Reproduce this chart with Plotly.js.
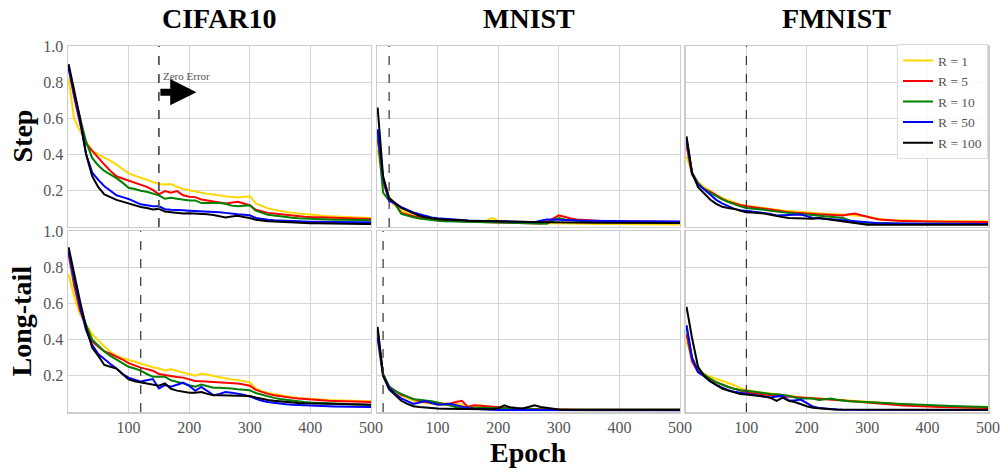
<!DOCTYPE html>
<html>
<head>
<meta charset="utf-8">
<script src="https://cdn.plot.ly/plotly-3.0.1.min.js"></script>
<style>html,body{margin:0;padding:0;background:#fff;}#chart{width:1003px;height:473px;}</style>
</head>
<body>
<div id="chart"></div>
<script>
// ---------------- data ----------------
const epochs = [1,10,20,30,40,50,60,70,80,90,100,110,120,130,140,150,160,170,180,190,200,210,220,230,240,250,260,270,280,290,300,310,320,330,340,350,360,370,380,390,400,410,420,430,440,450,460,470,480,490,500];
const seriesNames = ['R = 1','R = 5','R = 10','R = 50','R = 100'];
const datasets = ['CIFAR10','MNIST','FMNIST'];
const rowNames = ['Step','Long-tail'];
const xTicks = [100,200,300,400,500];
const yTicks = [0.2,0.4,0.6,0.8,1.0];
const yTickText = ['0.2','0.4','0.6','0.8','1.0'];
const zeroErrorEpoch = [150,20,100,120,10,100]; // step row then long-tail row

// CIFAR10 - Step
const cifarStep_R1   = [0.82,0.60,0.53,0.47,0.42,0.40,0.383,0.365,0.345,0.32,0.296,0.284,0.272,0.26,0.248,0.238,0.235,0.238,0.222,0.21,0.203,0.195,0.188,0.183,0.179,0.174,0.168,0.165,0.163,0.168,0.17,0.13,0.115,0.103,0.095,0.088,0.083,0.078,0.074,0.07,0.067,0.064,0.062,0.06,0.058,0.057,0.055,0.054,0.052,0.051,0.05];
const cifarStep_R5   = [0.88,0.72,0.57,0.46,0.42,0.38,0.345,0.31,0.28,0.268,0.257,0.245,0.235,0.222,0.205,0.18,0.198,0.19,0.198,0.175,0.167,0.165,0.152,0.145,0.14,0.135,0.13,0.135,0.139,0.13,0.12,0.095,0.085,0.078,0.074,0.07,0.066,0.062,0.059,0.057,0.055,0.053,0.052,0.051,0.05,0.049,0.048,0.047,0.046,0.045,0.044];
const cifarStep_R10  = [0.89,0.74,0.60,0.47,0.38,0.34,0.31,0.29,0.27,0.245,0.217,0.21,0.20,0.195,0.185,0.175,0.156,0.161,0.156,0.15,0.147,0.147,0.132,0.132,0.133,0.133,0.128,0.118,0.115,0.118,0.12,0.09,0.078,0.068,0.063,0.058,0.054,0.051,0.048,0.046,0.044,0.043,0.042,0.041,0.04,0.04,0.039,0.038,0.038,0.037,0.037];
const cifarStep_R50  = [0.88,0.74,0.58,0.40,0.30,0.26,0.225,0.20,0.175,0.165,0.155,0.14,0.125,0.12,0.115,0.115,0.098,0.095,0.095,0.092,0.09,0.089,0.088,0.087,0.085,0.082,0.078,0.073,0.07,0.068,0.065,0.05,0.043,0.04,0.037,0.035,0.033,0.032,0.031,0.03,0.029,0.029,0.028,0.028,0.027,0.027,0.027,0.026,0.026,0.026,0.026];
const cifarStep_R100 = [0.90,0.75,0.60,0.40,0.28,0.22,0.18,0.165,0.15,0.14,0.13,0.12,0.11,0.105,0.097,0.10,0.085,0.082,0.078,0.075,0.076,0.075,0.074,0.07,0.066,0.06,0.052,0.058,0.062,0.055,0.05,0.04,0.035,0.032,0.03,0.028,0.026,0.025,0.023,0.022,0.021,0.021,0.02,0.02,0.019,0.019,0.018,0.018,0.018,0.017,0.017];

// MNIST - Step
const mnistStep_R1   = [0.43,0.24,0.165,0.12,0.09,0.075,0.062,0.055,0.05,0.046,0.042,0.04,0.038,0.036,0.035,0.034,0.033,0.032,0.033,0.05,0.035,0.03,0.028,0.026,0.024,0.023,0.022,0.021,0.02,0.02,0.019,0.019,0.018,0.018,0.017,0.017,0.017,0.016,0.016,0.016,0.016,0.015,0.015,0.015,0.015,0.015,0.014,0.014,0.014,0.014,0.014];
const mnistStep_R5   = [0.49,0.25,0.15,0.125,0.078,0.068,0.06,0.053,0.048,0.043,0.038,0.036,0.034,0.032,0.031,0.03,0.029,0.028,0.027,0.027,0.026,0.025,0.024,0.023,0.022,0.021,0.02,0.019,0.03,0.045,0.065,0.055,0.047,0.042,0.039,0.036,0.034,0.033,0.033,0.032,0.032,0.031,0.031,0.03,0.03,0.03,0.029,0.029,0.029,0.028,0.028];
const mnistStep_R10  = [0.52,0.19,0.145,0.13,0.072,0.062,0.054,0.047,0.042,0.038,0.034,0.032,0.031,0.03,0.029,0.028,0.028,0.027,0.027,0.026,0.026,0.025,0.024,0.023,0.022,0.021,0.02,0.019,0.018,0.035,0.05,0.042,0.038,0.035,0.033,0.031,0.03,0.029,0.029,0.028,0.028,0.028,0.027,0.027,0.027,0.027,0.026,0.026,0.026,0.026,0.026];
const mnistStep_R50  = [0.54,0.27,0.145,0.13,0.11,0.095,0.08,0.07,0.06,0.053,0.048,0.045,0.042,0.04,0.038,0.036,0.035,0.034,0.033,0.032,0.031,0.03,0.03,0.029,0.028,0.027,0.026,0.035,0.041,0.041,0.039,0.038,0.037,0.036,0.035,0.035,0.034,0.034,0.033,0.033,0.033,0.032,0.032,0.032,0.032,0.031,0.031,0.031,0.031,0.031,0.031];
const mnistStep_R100 = [0.66,0.28,0.16,0.135,0.105,0.09,0.075,0.062,0.054,0.048,0.044,0.042,0.039,0.038,0.037,0.035,0.034,0.033,0.032,0.032,0.031,0.03,0.03,0.029,0.029,0.028,0.027,0.027,0.026,0.026,0.025,0.025,0.024,0.024,0.024,0.023,0.023,0.023,0.023,0.023,0.022,0.022,0.022,0.022,0.022,0.022,0.022,0.022,0.022,0.022,0.022];

// FMNIST - Step
const fmnistStep_R1   = [0.39,0.3,0.25,0.22,0.2,0.18,0.16,0.148,0.135,0.125,0.118,0.113,0.11,0.105,0.1,0.095,0.091,0.088,0.085,0.083,0.081,0.078,0.075,0.073,0.071,0.07,0.069,0.067,0.063,0.061,0.059,0.05,0.044,0.04,0.038,0.036,0.035,0.034,0.034,0.033,0.033,0.033,0.032,0.032,0.032,0.032,0.031,0.031,0.031,0.031,0.031];
const fmnistStep_R5   = [0.45,0.29,0.24,0.21,0.195,0.175,0.155,0.14,0.13,0.122,0.115,0.11,0.106,0.103,0.097,0.09,0.086,0.082,0.079,0.076,0.074,0.072,0.07,0.069,0.068,0.066,0.063,0.07,0.074,0.065,0.055,0.048,0.042,0.038,0.036,0.034,0.033,0.032,0.031,0.031,0.03,0.03,0.03,0.029,0.029,0.029,0.029,0.028,0.028,0.028,0.028];
const fmnistStep_R10  = [0.47,0.3,0.24,0.21,0.19,0.17,0.153,0.138,0.125,0.114,0.105,0.102,0.1,0.095,0.089,0.085,0.08,0.077,0.074,0.071,0.069,0.066,0.062,0.06,0.058,0.055,0.05,0.038,0.028,0.024,0.022,0.021,0.02,0.02,0.019,0.019,0.019,0.018,0.018,0.018,0.018,0.018,0.018,0.017,0.017,0.017,0.017,0.017,0.017,0.017,0.017];
const fmnistStep_R50  = [0.485,0.3,0.235,0.21,0.18,0.15,0.13,0.115,0.1,0.093,0.087,0.085,0.082,0.079,0.072,0.064,0.065,0.069,0.069,0.069,0.06,0.05,0.048,0.045,0.043,0.04,0.037,0.034,0.029,0.025,0.022,0.021,0.02,0.02,0.019,0.019,0.019,0.018,0.018,0.018,0.018,0.018,0.017,0.017,0.017,0.017,0.017,0.017,0.017,0.017,0.017];
const fmnistStep_R100 = [0.50,0.3,0.22,0.185,0.152,0.128,0.112,0.105,0.1,0.09,0.081,0.08,0.078,0.074,0.068,0.06,0.055,0.05,0.048,0.046,0.044,0.046,0.05,0.045,0.04,0.037,0.033,0.028,0.02,0.015,0.013,0.013,0.013,0.013,0.013,0.013,0.013,0.013,0.013,0.013,0.013,0.013,0.013,0.013,0.013,0.013,0.013,0.013,0.013,0.013,0.013];

// CIFAR10 - Long-tail
const cifarLT_R1   = [0.76,0.64,0.54,0.48,0.43,0.395,0.362,0.333,0.31,0.298,0.288,0.276,0.264,0.255,0.247,0.24,0.229,0.236,0.226,0.217,0.208,0.2,0.212,0.205,0.2,0.19,0.182,0.179,0.177,0.172,0.164,0.13,0.115,0.105,0.098,0.092,0.086,0.081,0.077,0.074,0.071,0.069,0.067,0.066,0.065,0.064,0.063,0.062,0.061,0.06,0.06];
const cifarLT_R5   = [0.87,0.70,0.56,0.47,0.39,0.36,0.335,0.322,0.308,0.29,0.27,0.257,0.245,0.237,0.228,0.21,0.204,0.195,0.193,0.19,0.18,0.171,0.17,0.168,0.167,0.163,0.16,0.159,0.158,0.152,0.145,0.122,0.11,0.1,0.093,0.087,0.082,0.078,0.074,0.071,0.068,0.066,0.064,0.062,0.061,0.06,0.059,0.058,0.057,0.056,0.055];
const cifarLT_R10  = [0.89,0.73,0.58,0.48,0.40,0.365,0.335,0.31,0.29,0.27,0.25,0.24,0.229,0.21,0.195,0.195,0.195,0.175,0.168,0.158,0.148,0.14,0.152,0.143,0.134,0.134,0.134,0.13,0.126,0.123,0.12,0.105,0.095,0.085,0.078,0.072,0.067,0.062,0.058,0.055,0.052,0.05,0.048,0.047,0.046,0.045,0.044,0.043,0.042,0.041,0.04];
const cifarLT_R50  = [0.89,0.74,0.58,0.45,0.37,0.32,0.29,0.265,0.24,0.21,0.19,0.18,0.168,0.175,0.182,0.13,0.149,0.14,0.15,0.162,0.145,0.117,0.139,0.115,0.093,0.1,0.11,0.107,0.102,0.095,0.085,0.072,0.062,0.055,0.05,0.046,0.043,0.04,0.038,0.036,0.035,0.034,0.033,0.032,0.031,0.03,0.03,0.029,0.029,0.028,0.028];
const cifarLT_R100 = [0.91,0.76,0.61,0.465,0.355,0.31,0.26,0.25,0.24,0.21,0.18,0.17,0.163,0.155,0.148,0.145,0.158,0.128,0.118,0.11,0.106,0.106,0.11,0.1,0.093,0.092,0.091,0.091,0.09,0.089,0.089,0.08,0.072,0.066,0.062,0.058,0.055,0.052,0.05,0.048,0.047,0.046,0.045,0.044,0.043,0.042,0.042,0.041,0.041,0.04,0.04];

// MNIST - Long-tail
const mnistLT_R1   = [0.39,0.2,0.135,0.108,0.09,0.075,0.062,0.055,0.05,0.045,0.04,0.038,0.04,0.045,0.04,0.03,0.033,0.037,0.03,0.025,0.022,0.02,0.018,0.016,0.015,0.014,0.013,0.012,0.012,0.011,0.011,0.011,0.011,0.011,0.01,0.01,0.01,0.01,0.01,0.01,0.01,0.01,0.01,0.01,0.01,0.01,0.01,0.01,0.01,0.01,0.01];
const mnistLT_R5   = [0.43,0.21,0.14,0.115,0.095,0.085,0.072,0.06,0.055,0.05,0.047,0.046,0.046,0.055,0.062,0.028,0.037,0.035,0.032,0.03,0.027,0.024,0.021,0.019,0.018,0.017,0.016,0.015,0.014,0.013,0.013,0.013,0.013,0.013,0.013,0.013,0.013,0.012,0.012,0.012,0.012,0.012,0.012,0.012,0.012,0.012,0.012,0.012,0.012,0.012,0.012];
const mnistLT_R10  = [0.45,0.21,0.14,0.115,0.1,0.085,0.07,0.068,0.066,0.06,0.053,0.045,0.035,0.028,0.025,0.024,0.022,0.021,0.02,0.019,0.018,0.017,0.016,0.016,0.015,0.015,0.014,0.014,0.014,0.013,0.013,0.013,0.013,0.013,0.013,0.013,0.012,0.012,0.012,0.012,0.012,0.012,0.012,0.012,0.012,0.012,0.012,0.012,0.012,0.012,0.012];
const mnistLT_R50  = [0.41,0.2,0.135,0.1,0.075,0.06,0.045,0.052,0.06,0.05,0.04,0.042,0.046,0.038,0.028,0.022,0.018,0.015,0.013,0.012,0.011,0.011,0.01,0.01,0.01,0.01,0.01,0.01,0.01,0.01,0.009,0.009,0.009,0.009,0.009,0.009,0.009,0.009,0.009,0.009,0.009,0.009,0.009,0.009,0.009,0.009,0.009,0.009,0.009,0.009,0.009];
const mnistLT_R100 = [0.47,0.2,0.125,0.095,0.062,0.045,0.032,0.027,0.023,0.02,0.019,0.018,0.017,0.017,0.016,0.016,0.016,0.015,0.015,0.015,0.02,0.037,0.026,0.022,0.02,0.028,0.037,0.028,0.022,0.017,0.014,0.013,0.013,0.013,0.013,0.013,0.013,0.013,0.013,0.013,0.013,0.013,0.013,0.013,0.013,0.013,0.013,0.013,0.013,0.013,0.013];

// FMNIST - Long-tail
const fmnistLT_R1   = [0.39,0.3,0.24,0.21,0.195,0.182,0.17,0.16,0.148,0.132,0.121,0.115,0.11,0.105,0.102,0.097,0.093,0.089,0.085,0.082,0.08,0.078,0.076,0.074,0.072,0.069,0.066,0.063,0.06,0.058,0.056,0.054,0.052,0.049,0.046,0.043,0.041,0.039,0.037,0.035,0.033,0.031,0.03,0.029,0.028,0.027,0.026,0.025,0.024,0.023,0.022];
const fmnistLT_R5   = [0.43,0.28,0.22,0.2,0.18,0.165,0.15,0.138,0.128,0.118,0.111,0.105,0.1,0.096,0.093,0.09,0.088,0.085,0.081,0.078,0.077,0.076,0.075,0.074,0.072,0.068,0.064,0.061,0.058,0.054,0.05,0.047,0.044,0.042,0.04,0.038,0.036,0.034,0.032,0.031,0.03,0.029,0.028,0.027,0.026,0.025,0.024,0.024,0.023,0.023,0.022];
const fmnistLT_R10  = [0.465,0.3,0.23,0.205,0.185,0.165,0.15,0.138,0.128,0.12,0.117,0.112,0.108,0.104,0.1,0.098,0.096,0.09,0.08,0.074,0.074,0.074,0.066,0.07,0.074,0.068,0.062,0.059,0.058,0.057,0.056,0.054,0.052,0.05,0.048,0.046,0.044,0.042,0.04,0.039,0.037,0.036,0.035,0.034,0.033,0.032,0.031,0.03,0.029,0.029,0.028];
const fmnistLT_R50  = [0.48,0.3,0.22,0.198,0.17,0.15,0.135,0.121,0.112,0.106,0.102,0.096,0.09,0.084,0.08,0.086,0.089,0.065,0.063,0.069,0.05,0.03,0.022,0.018,0.015,0.014,0.013,0.013,0.012,0.012,0.012,0.012,0.012,0.012,0.012,0.012,0.012,0.011,0.011,0.011,0.011,0.011,0.011,0.011,0.011,0.011,0.011,0.011,0.011,0.011,0.011];
const fmnistLT_R100 = [0.58,0.41,0.25,0.2,0.17,0.15,0.13,0.118,0.108,0.1,0.097,0.094,0.09,0.085,0.078,0.062,0.08,0.062,0.055,0.042,0.032,0.023,0.019,0.016,0.015,0.014,0.014,0.013,0.013,0.013,0.013,0.013,0.013,0.013,0.013,0.013,0.013,0.013,0.013,0.013,0.013,0.013,0.013,0.013,0.013,0.013,0.013,0.013,0.013,0.013,0.013];

// ---------------- build ----------------
const colors = ['#FFD700','#FF0000','#008000','#0000FF','#000000'];
const panels = [
  [cifarStep_R1,cifarStep_R5,cifarStep_R10,cifarStep_R50,cifarStep_R100],
  [mnistStep_R1,mnistStep_R5,mnistStep_R10,mnistStep_R50,mnistStep_R100],
  [fmnistStep_R1,fmnistStep_R5,fmnistStep_R10,fmnistStep_R50,fmnistStep_R100],
  [cifarLT_R1,cifarLT_R5,cifarLT_R10,cifarLT_R50,cifarLT_R100],
  [mnistLT_R1,mnistLT_R5,mnistLT_R10,mnistLT_R50,mnistLT_R100],
  [fmnistLT_R1,fmnistLT_R5,fmnistLT_R10,fmnistLT_R50,fmnistLT_R100]
];
const SERIF = 'Liberation Serif, DejaVu Serif, serif';
const xDomains = [[0,0.3293],[0.3359,0.6652],[0.6717,1]];
const yDomains = [[0.5055,1],[0,0.4945]];

const traces = [];
panels.forEach((p, i) => {
  const sfx = i === 0 ? '' : String(i + 1);
  p.forEach((vals, s) => {
    traces.push({
      x: epochs, y: vals, type: 'scatter', mode: 'lines',
      xaxis: 'x' + sfx, yaxis: 'y' + sfx,
      name: seriesNames[s], legendgroup: seriesNames[s],
      showlegend: i === 2,
      line: {color: colors[s], width: 2}
    });
  });
});

const layout = {
  width: 1003, height: 473,
  margin: {l: 68, r: 15, t: 46, b: 61},
  paper_bgcolor: '#ffffff', plot_bgcolor: '#ffffff',
  showlegend: true,
  legend: {
    x: 1, xanchor: 'right', y: 1.005, yanchor: 'top',
    bgcolor: 'rgba(255,255,255,0.85)', bordercolor: '#dddddd', borderwidth: 1,
    font: {family: SERIF, size: 13.5, color: '#555555'},
    tracegroupgap: 0
  },
  shapes: [], annotations: []
};

for (let i = 0; i < 6; i++) {
  const row = Math.floor(i / 3), col = i % 3;
  const sfx = i === 0 ? '' : String(i + 1);
  layout['xaxis' + sfx] = {
    domain: xDomains[col], anchor: 'y' + sfx, range: [0, 500],
    tickvals: xTicks, showticklabels: row === 1, ticks: '',
    showgrid: true, gridcolor: '#d5d5d5', gridwidth: 1, zeroline: false,
    showline: true, mirror: true, linecolor: '#cccccc', linewidth: 1.5,
    tickfont: {family: SERIF, size: 16, color: '#555555'}
  };
  layout['yaxis' + sfx] = {
    domain: yDomains[row], anchor: 'x' + sfx, range: [0, 1],
    tickvals: yTicks, ticktext: yTickText, showticklabels: col === 0, ticks: '',
    showgrid: true, gridcolor: '#d5d5d5', gridwidth: 1, zeroline: false,
    showline: true, mirror: true, linecolor: '#cccccc', linewidth: 1.5,
    tickfont: {family: SERIF, size: 16, color: '#555555'}
  };
  layout.shapes.push({
    type: 'line', xref: 'x' + sfx, yref: 'y' + sfx + ' domain',
    x0: zeroErrorEpoch[i], x1: zeroErrorEpoch[i], y0: 0, y1: 1,
    line: {color: i === 0 ? '#555555' : '#333333', width: i === 0 ? 1.8 : 1.2, dash: 'dash'}
  });
}

// column titles
datasets.forEach((t, c) => {
  const sfx = c === 0 ? '' : String(c + 1);
  layout.annotations.push({
    text: '<b>' + t + '</b>', xref: 'x' + sfx + ' domain', yref: 'paper',
    x: 0.5, y: 1.0765, xanchor: 'center', yanchor: 'middle', showarrow: false,
    font: {family: SERIF, size: 28, color: '#000000'}
  });
});
// row titles
rowNames.forEach((t, r) => {
  const sfx = r === 0 ? '' : '4';
  layout.annotations.push({
    text: '<b>' + t + '</b>', xref: 'paper', yref: 'y' + sfx + ' domain',
    x: -0.05, y: 0.5, xanchor: 'center', yanchor: 'middle', textangle: -90,
    showarrow: false, font: {family: SERIF, size: 28, color: '#000000'}
  });
});
// x title
layout.annotations.push({
  text: '<b>Epoch</b>', xref: 'paper', yref: 'paper', x: 0.5, y: -0.112,
  xanchor: 'center', yanchor: 'middle', showarrow: false,
  font: {family: SERIF, size: 28, color: '#000000'}
});
// Zero Error marker
layout.annotations.push({
  text: 'Zero Error', xref: 'x', yref: 'y', x: 153, y: 0.835,
  xanchor: 'left', yanchor: 'middle', showarrow: false,
  font: {family: SERIF, size: 11, color: '#555555'}
});
layout.annotations.push({
  text: '', xref: 'x', yref: 'y', x: 212, y: 0.745,
  axref: 'x', ayref: 'y', ax: 150, ay: 0.745,
  showarrow: true, arrowhead: 2, arrowsize: 0.75, arrowwidth: 7, arrowcolor: '#000000', standoff: 0
});

Plotly.newPlot('chart', traces, layout, {displayModeBar: false, staticPlot: true});
</script>
</body>
</html>
